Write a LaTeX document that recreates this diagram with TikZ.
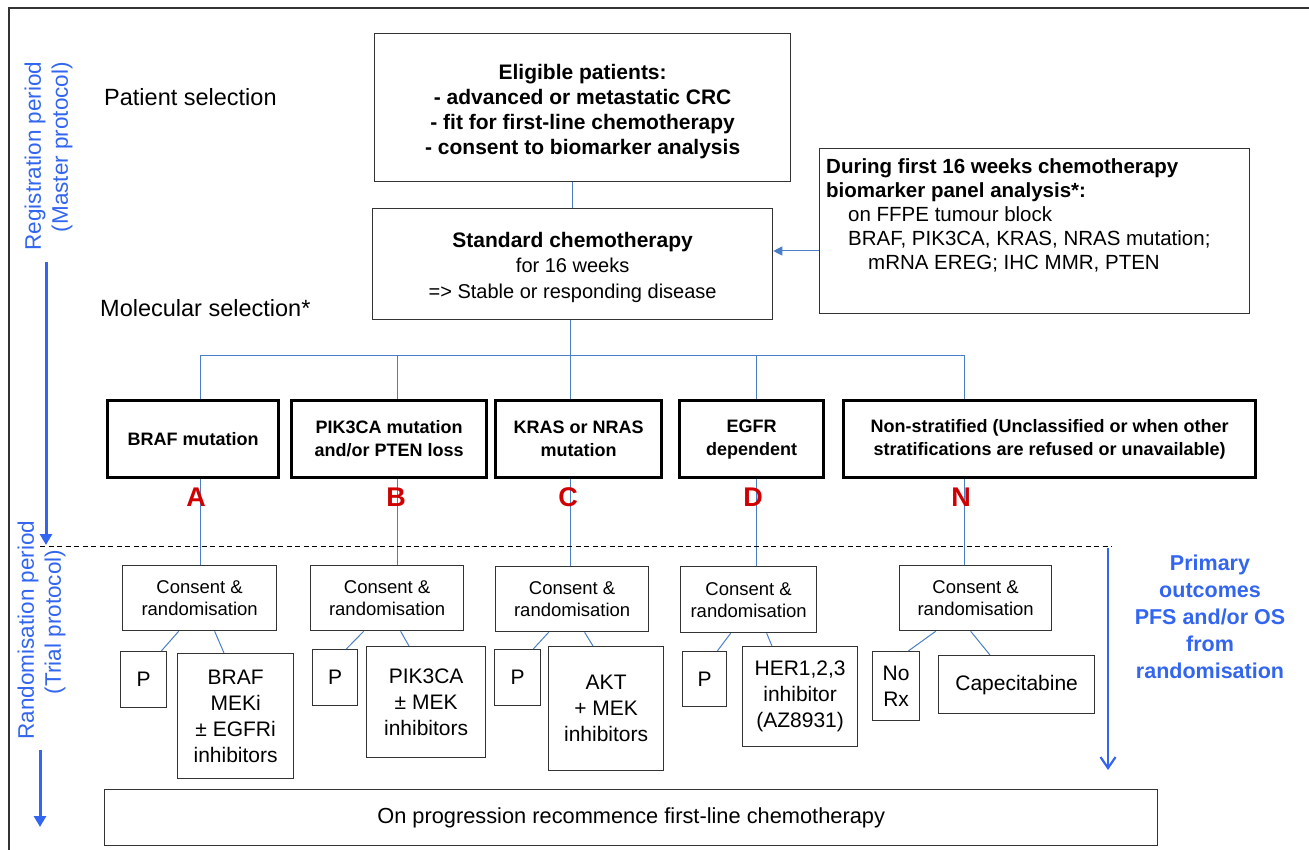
\documentclass[tikz,border=0pt]{standalone}
\usepackage{fontspec}
\setmainfont{Liberation Sans}
\usetikzlibrary{arrows.meta}
\definecolor{lblue}{HTML}{4A7EC6}
\definecolor{tblue}{HTML}{3366F0}
\definecolor{dred}{HTML}{D00000}
\definecolor{edge}{HTML}{333333}
\newcommand{\fsz}[2]{\fontsize{#1}{#2}\selectfont}
\tikzset{
  box/.style={draw=edge, line width=1.3, inner sep=0, align=center, anchor=north west},
  strat/.style={draw=black, line width=3.2, inner sep=0, align=center, anchor=north west, font=\fsz{18}{23}\bfseries},
  consent/.style={box, font=\fsz{18.5}{22}},
  treat/.style={box, font=\fsz{21}{26}},
  conn/.style={draw=lblue, line width=1},
  letter/.style={text=dred, font=\fsz{27}{27}\bfseries, inner sep=0},
  sidelabel/.style={rotate=90, text=tblue, font=\fsz{22.5}{26}, inner sep=0},
  bluearrow/.style={draw=tblue, line width=3}
}
\begin{document}
\begin{tikzpicture}[x=1pt, y=-1pt]
\useasboundingbox (0,0) rectangle (1309,850);
\fill[white] (0,0) rectangle (1309,850);
% outer frame (cropped)
\draw[edge, line width=1.2] (9,850) -- (9,8) -- (1309,8);

% side labels
\node[sidelabel] (reg1) at (35,156) {Registration period};
\node[sidelabel] (reg2) at (62,147) {(Master protocol)};
\coordinate (regS) at (46,262);
\coordinate (regE) at (46,545);
\draw[bluearrow, -{Triangle[length=11, width=12]}] (regS) -- (regE);
\node[sidelabel] (ran1) at (28,630) {Randomisation period};
\node[sidelabel] (ran2) at (55,622) {(Trial protocol)};
\coordinate (ranS) at (40,750);
\coordinate (ranE) at (40,827);
\draw[bluearrow, -{Triangle[length=11, width=12]}] (ranS) -- (ranE);

% stage labels
\node[anchor=west, font=\fsz{23.5}{27}, inner sep=0] (psel) at (104,97) {Patient selection};
\node[anchor=west, font=\fsz{23.5}{27}, inner sep=0] (msel) at (100,308) {Molecular selection*};

% top boxes
\node[box, minimum width=416, minimum height=148] (elig) at (374,33) {};
\node[align=center, inner sep=0, font=\fsz{21}{25}\bfseries] (eligtxt) at ([yshift=-4]elig.center)
  {Eligible patients:\\- advanced or metastatic CRC\\- fit for first-line chemotherapy\\- consent to biomarker analysis};
\node[box, minimum width=400, minimum height=111] (chemo) at (372,208) {};
\node[align=center, inner sep=0, font=\fsz{20}{25.5}] (chemotxt) at ([yshift=-3]chemo.center)
  {{\fsz{21}{25.5}\bfseries Standard chemotherapy}\\for 16 weeks\\=> Stable or responding disease};
\node[box, minimum width=430, minimum height=165] (panel) at (819,148) {};
\node[anchor=north west, inner sep=0, align=left, font=\fsz{20.5}{24}] (paneltxt) at (826,158)
  {{\bfseries During first 16 weeks chemotherapy}\\
   {\bfseries biomarker panel analysis*:}\\
   \hspace*{22pt}on FFPE tumour block\\
   \hspace*{22pt}BRAF, PIK3CA, KRAS, NRAS mutation;\\
   \hspace*{42pt}mRNA EREG; IHC MMR, PTEN};

\draw[conn] (chemo.north) -- (chemo.north |- elig.south);
\coordinate (pin) at (819,251);
\draw[conn, -{Triangle[length=9, width=9]}] (pin) -- (pin -| chemo.east);

% stratum boxes
\node[strat, minimum width=171, minimum height=77] (sA) at (106,399) {BRAF mutation};
\node[strat, minimum width=195, minimum height=77] (sB) at (290,399) {PIK3CA mutation\\and/or PTEN loss};
\node[strat, minimum width=166, minimum height=77] (sC) at (494,399) {KRAS or NRAS\\mutation};
\node[strat, minimum width=144, minimum height=77] (sD) at (678,399) {EGFR\\dependent};
\node[strat, minimum width=412, minimum height=77] (sN) at (842,399) {Non-stratified (Unclassified or when other\\stratifications are refused or unavailable)};

\coordinate (hub) at (570,355);
\coordinate (xA) at (200,0);
\coordinate (xB) at (397,0);
\coordinate (xC) at (570,0);
\coordinate (xD) at (756,0);
\coordinate (xN) at (964,0);
\draw[conn] (chemo.south -| hub) -- (hub);
\draw[conn] (xA |- hub) -- (xN |- hub);
\foreach \s in {A,B,C,D,N}{
  \draw[conn] (x\s |- hub) -- (x\s |- s\s.north);
}

% consent boxes
\node[consent, minimum width=154, minimum height=65] (cA) at (122,565) {Consent \&\\randomisation};
\node[consent, minimum width=153, minimum height=65] (cB) at (310,565) {Consent \&\\randomisation};
\node[consent, minimum width=153, minimum height=65] (cC) at (495,566) {Consent \&\\randomisation};
\node[consent, minimum width=136, minimum height=66] (cD) at (680,566) {Consent \&\\randomisation};
\node[consent, minimum width=152, minimum height=65] (cN) at (899,565) {Consent \&\\randomisation};

\foreach \s in {A,B,C,D,N}{
  \draw[conn] (x\s |- s\s.south) -- (x\s |- c\s.north);
}

% letters
\node[letter] (lA) at (196,497) {A};
\node[letter] (lB) at (396,497) {B};
\node[letter] (lC) at (568,497) {C};
\node[letter] (lD) at (753,497) {D};
\node[letter] (lN) at (961,497) {N};

% dashed separator
\coordinate (dL) at (40,546);
\coordinate (dR) at (1112,546);
\draw[black, line width=1, dash pattern=on 5pt off 3.5pt] (dL) -- (dR);

% treatment boxes
\node[treat, minimum width=46, minimum height=56] (pA) at (120,651) {P};
\node[treat, minimum width=116, minimum height=125] (tA) at (177,653) {BRAF\\MEKi\\± EGFRi\\inhibitors};
\node[treat, minimum width=45, minimum height=56] (pB) at (312,649) {P};
\node[treat, minimum width=119, minimum height=111] (tB) at (366,646) {PIK3CA\\± MEK\\inhibitors};
\node[treat, minimum width=46, minimum height=56] (pC) at (494,649) {P};
\node[treat, minimum width=115, minimum height=124] (tC) at (548,646) {AKT\\+ MEK\\inhibitors};
\node[treat, minimum width=44, minimum height=55] (pD) at (682,651) {P};
\node[treat, minimum width=115, minimum height=100] (tD) at (742,646) {HER1,2,3\\inhibitor\\(AZ8931)};
\node[treat, minimum width=47, minimum height=69] (pN) at (872,651) {No\\Rx};
\node[treat, minimum width=156, minimum height=58] (tN) at (938,655) {Capecitabine};

% small connectors
\draw[conn] ([xshift=-21]cA.south) -- ([xshift=-6]pA.north east);
\draw[conn] ([xshift=15]cA.south) -- ([xshift=47]tA.north west);
\draw[conn] ([xshift=-23.5]cB.south) -- ([xshift=-12]pB.north east);
\draw[conn] ([xshift=13.5]cB.south) -- ([xshift=43]tB.north west);
\draw[conn] ([xshift=-23.5]cC.south) -- ([xshift=-8]pC.north east);
\draw[conn] ([xshift=12.5]cC.south) -- ([xshift=45]tC.north west);
\draw[conn] ([xshift=-18]cD.south) -- ([xshift=-10]pD.north east);
\draw[conn] ([xshift=18]cD.south) -- ([xshift=30]tD.north west);
\draw[conn] ([xshift=-40]cN.south) -- ([xshift=-12]pN.north east);
\draw[conn] ([xshift=-5]cN.south) -- ([xshift=52]tN.north west);

% right outcome arrow and text
\coordinate (oS) at (1108,548);
\coordinate (oE) at (1108,770);
\draw[draw=tblue, line width=2.2, -{Straight Barb[length=11, width=15]}] (oS) -- (oE);
\node[text=tblue, align=center, font=\fsz{21.5}{27}\bfseries, inner sep=0, anchor=north] (prim) at (1210,555)
  {Primary\\outcomes\\PFS and/or OS\\from\\randomisation};

% bottom box
\node[box, minimum width=1053, minimum height=56, font=\fsz{21.8}{24}] (prog) at (104,789)
  {On progression recommence first-line chemotherapy};
\end{tikzpicture}
\end{document}
